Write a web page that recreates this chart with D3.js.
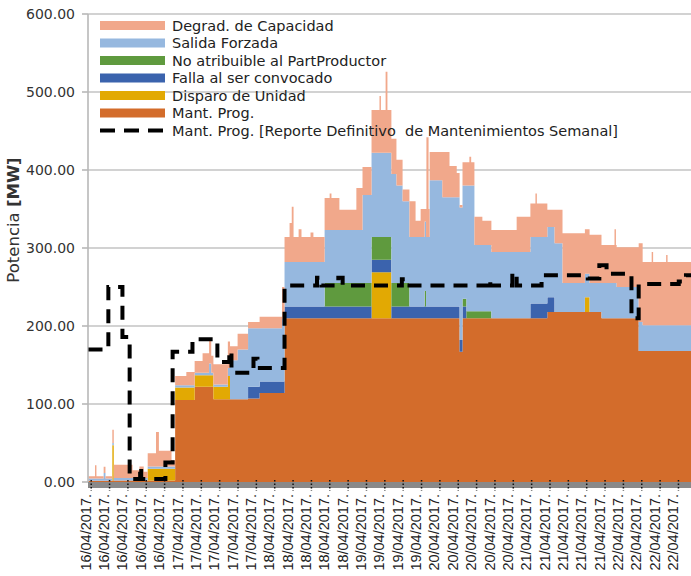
<!DOCTYPE html>
<html>
<head>
<meta charset="utf-8">
<script src="https://cdn.jsdelivr.net/npm/d3@7"></script>
<style>
  body { margin: 0; background: #fff; }
  svg { display: block; }
</style>
</head>
<body>
<div id="chart"></div>
<script>
// steps: [hours since 16/04/2017 00:00, MW], value holds until the next step
const mantProg = [[0,1.5],[6.6,2],[24,105],[29.4,122],[34.6,106],[44.2,107],[47.4,114],[54.3,210],[102.8,167],[103.6,210],[127.1,218],[142.1,210],[152.4,168]];
const disparo = [[0,0],[6.6,45],[7.0,0],[16.4,15],[24,16],[29.4,15],[34.6,16],[38.6,30],[39.2,0],[78.4,59],[83.9,0],[137.5,19],[138.8,0]];
const falla = [[0,0],[44.2,15],[78.4,16],[83.9,15],[104.7,0],[122.4,19],[129.1,0]];
const noAtrib = [[0,0],[65.4,30],[78.4,29],[83.9,30],[88.9,0],[93.1,20],[93.5,0],[103.6,10],[104.7,9],[111.6,0]];
const salida = [[0,3],[4.2,10],[4.7,3],[33.4,15],[34.0,3],[38.6,10],[39.2,50],[41.3,64],[44.2,75],[47.4,68],[53.6,80],[54.3,57],[65.4,68],[75.9,113],[78.4,108],[83.9,140],[85.3,125],[87.0,105],[88.9,89],[94.5,162],[98,140],[102.8,170],[103.6,145],[104.7,161],[106.9,85],[127.1,90],[129.1,88],[131.3,37],[137.5,30],[138.8,37],[142.1,45],[146.3,40],[152.4,37],[153.5,33]];
const degrad = [[0,3],[1.8,17],[2.2,3],[4.2,8],[4.7,3],[6.6,17],[12.2,10],[14.1,15],[15.3,8],[16.4,17],[18.7,44],[19.5,20],[23,8],[24,12],[27.1,17],[29.4,15],[31.6,25],[33.4,30],[34.0,22],[34.6,26],[38.6,34],[39.2,18],[41.3,20],[44.2,8],[47.4,15],[53.6,41],[54.3,32],[55.7,50],[56.3,71],[56.8,32],[58.2,42],[59.0,32],[61.5,38],[62.3,32],[65.4,41],[66.8,47],[67.3,41],[69.5,26],[74.2,54],[75.9,36],[78.4,55],[80.6,73],[81.0,55],[82.3,104],[82.8,55],[83.9,45],[85.3,33],[87.0,15],[88.9,46],[90.6,21],[92,36],[93.1,16],[93.5,36],[93.6,128],[94.2,36],[98,58],[100,40],[102,31],[102.8,3],[103.6,30],[105.5,37],[106,30],[106.9,36],[109.1,31],[111.6,28],[118.6,45],[122.4,43],[123.8,56],[124.2,43],[127.1,22],[129.1,43],[131.3,64],[137.5,57],[138.8,62],[142.1,49],[145.7,69],[146.1,49],[146.3,51],[152.4,101],[153.5,81],[156,94],[156.4,81],[160,90],[160.4,81]];
const reporteSemanal = [[0,170],[5.5,250],[9.4,186],[11.4,4],[14.3,20],[14.6,4],[21.3,25],[23.3,167],[28.8,183],[35.7,154],[39.0,168],[39.6,140],[45.7,158],[46.8,146],[54.3,252],[63.3,262],[64.5,252],[69.2,262],[70.4,252],[86.8,260],[87.6,252],[110.8,260],[111.3,252],[117.4,268],[118.6,252],[125.5,265],[138.3,261],[141.5,278],[143.5,267],[150.4,210],[152.4,254],[163.5,257],[165.5,265],[168,265]];

const totalHours = 168;
const yTicks = [0, 100, 200, 300, 400, 500, 600];
// x labels every 305 minutes, first one 45 min after start
const tickFirstMin = 45, tickStepMin = 305, tickCount = 33;

const stackKeys = ["mantProg", "disparo", "falla", "noAtrib", "salida", "degrad"];
const stackSteps = { mantProg, disparo, falla, noAtrib, salida, degrad };
const colors = {
    mantProg: "#d36c2b",
    disparo: "#e2a903",
    falla: "#3b63ad",
    noAtrib: "#5f9a3e",
    salida: "#96b8df",
    degrad: "#f1a88b"
};
const legendItems = [
    { key: "degrad", label: "Degrad. de Capacidad" },
    { key: "salida", label: "Salida Forzada" },
    { key: "noAtrib", label: "No atribuible al PartProductor" },
    { key: "falla", label: "Falla al ser convocado" },
    { key: "disparo", label: "Disparo de Unidad" },
    { key: "mantProg", label: "Mant. Prog." },
    { key: "dash", label: "Mant. Prog. [Reporte Definitivo  de Mantenimientos Semanal]" }
];

const width = 691, height = 576;
const plot = { left: 88, right: 695, top: 14, bottom: 482 };
const start = new Date(2017, 3, 16);
const toDate = h => new Date(start.getTime() + h * 3600e3);

const svg = d3.select("#chart").append("svg")
    .attr("width", width)
    .attr("height", height);

const x = d3.scaleTime()
    .domain([start, toDate(totalHours)])
    .range([plot.left + 0.5, plot.right]);

const y = d3.scaleLinear()
    .domain([0, 600])
    .range([plot.bottom, plot.top]);

// value of a step series at hour t
function valueAt(steps, t) {
    let v = 0;
    for (const s of steps) { if (s[0] <= t) v = s[1]; else break; }
    return v;
}

const breaks = Array.from(new Set(stackKeys.flatMap(k => stackSteps[k].map(s => s[0])).concat([totalHours])))
    .sort((a, b) => a - b);
const table = breaks.map(t => {
    const row = { t: t };
    stackKeys.forEach(k => row[k] = valueAt(stackSteps[k], t));
    return row;
});
const stacked = d3.stack().keys(stackKeys)(table);

// gridlines
svg.append("g")
    .selectAll("line")
    .data(yTicks.filter(d => d > 0))
    .join("line")
    .attr("x1", plot.left)
    .attr("x2", width)
    .attr("y1", d => y(d))
    .attr("y2", d => y(d))
    .attr("stroke", "#c3c3c3")
    .attr("stroke-width", 1.6);

// stacked areas
const area = d3.area()
    .curve(d3.curveStepAfter)
    .x(d => x(toDate(d.data.t)))
    .y0(d => y(d[0]))
    .y1(d => y(d[1]));

svg.append("g")
    .selectAll("path")
    .data(stacked)
    .join("path")
    .attr("fill", d => colors[d.key])
    .attr("d", area);

// thick grey x axis band
svg.append("rect")
    .attr("x", plot.left)
    .attr("y", plot.bottom)
    .attr("width", width - plot.left)
    .attr("height", 6)
    .attr("fill", "#898989");

// x ticks and labels
const tickDates = d3.range(tickCount).map(i => toDate((tickFirstMin + i * tickStepMin) / 60));
const fmt = d3.timeFormat("%d/%m/%Y.");

const xAxis = svg.append("g");
xAxis.selectAll("line")
    .data(tickDates)
    .join("line")
    .attr("x1", d => x(d))
    .attr("x2", d => x(d))
    .attr("y1", 480)
    .attr("y2", 491)
    .attr("stroke", "#111")
    .attr("stroke-width", 1.5)
    .attr("stroke-dasharray", "1.5,2");

xAxis.selectAll("text")
    .data(tickDates)
    .join("text")
    .attr("transform", d => `translate(${x(d) - 5.5},494) rotate(-90)`)
    .attr("text-anchor", "end")
    .attr("dy", "0.35em")
    .style("font-family", "'Liberation Sans', Arial, sans-serif")
    .style("font-size", "14.5px")
    .attr("fill", "#222")
    .text(d => fmt(d));

// y axis
svg.append("line")
    .attr("x1", plot.left)
    .attr("x2", plot.left)
    .attr("y1", plot.top)
    .attr("y2", plot.bottom)
    .attr("stroke", "#b8b8b8")
    .attr("stroke-width", 1.6);

const yAxis = svg.append("g");
yAxis.selectAll("line")
    .data(yTicks)
    .join("line")
    .attr("x1", plot.left - 6)
    .attr("x2", plot.left)
    .attr("y1", d => y(d))
    .attr("y2", d => y(d))
    .attr("stroke", "#b8b8b8")
    .attr("stroke-width", 1.6);

yAxis.selectAll("text")
    .data(yTicks)
    .join("text")
    .attr("x", 75)
    .attr("y", d => y(d))
    .attr("dy", "0.35em")
    .attr("text-anchor", "end")
    .style("font-family", "'DejaVu Sans', sans-serif")
    .style("font-size", "14px")
    .attr("fill", "#333")
    .text(d => d3.format(".2f")(d));

// y title
const yTitle = svg.append("text")
    .attr("transform", "translate(13,220) rotate(-90)")
    .attr("text-anchor", "middle")
    .attr("dy", "0.35em")
    .style("font-family", "'DejaVu Sans', sans-serif")
    .style("font-size", "16.5px")
    .attr("fill", "#333");
yTitle.append("tspan").text("Potencia ");
yTitle.append("tspan").style("font-weight", "bold").text("[MW]");

// dashed reference line
const line = d3.line()
    .curve(d3.curveStepAfter)
    .x(d => x(toDate(d[0])))
    .y(d => y(d[1]));

svg.append("path")
    .datum(reporteSemanal)
    .attr("fill", "none")
    .attr("stroke", "#000")
    .attr("stroke-width", 4)
    .attr("stroke-dasharray", "14,9")
    .attr("d", line);

// legend
const legend = svg.append("g");
const rowY = i => 25.5 + i * 17.5;

legendItems.forEach((item, i) => {
    if (item.key === "dash") {
        legend.append("line")
            .attr("x1", 100).attr("x2", 165)
            .attr("y1", rowY(i)).attr("y2", rowY(i))
            .attr("stroke", "#000")
            .attr("stroke-width", 4)
            .attr("stroke-dasharray", "15,9");
    } else {
        legend.append("rect")
            .attr("x", 100).attr("y", rowY(i) - 4.5)
            .attr("width", 65).attr("height", 9)
            .attr("fill", colors[item.key]);
    }
    legend.append("text")
        .attr("x", 172)
        .attr("y", rowY(i))
        .attr("dy", "0.35em")
        .style("font-family", "'DejaVu Sans', sans-serif")
        .style("font-size", "14.5px")
        .style("white-space", "pre")
        .attr("fill", "#222")
        .text(item.label);
});
</script>
</body>
</html>
